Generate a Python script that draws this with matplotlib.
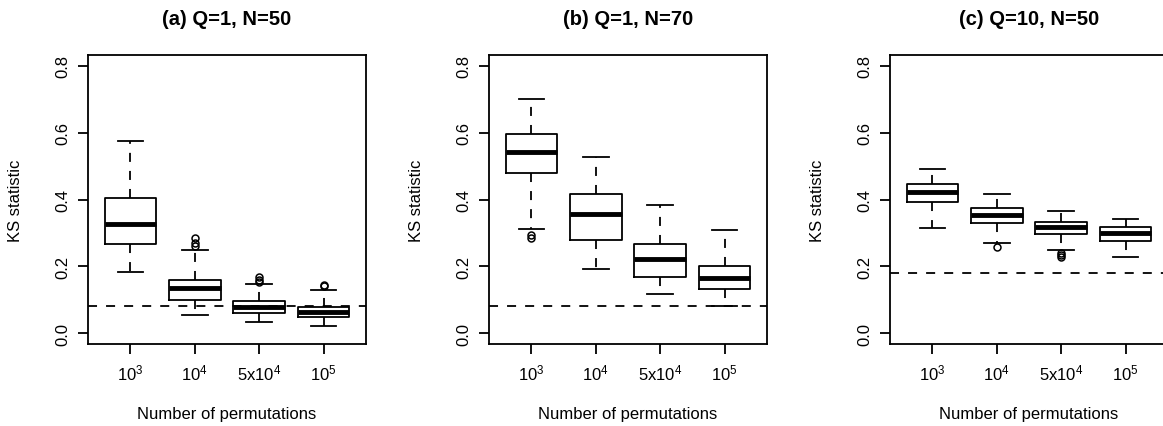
import matplotlib
matplotlib.use("Agg")
import matplotlib.pyplot as plt

plt.rcParams['font.family'] = ['Liberation Sans', 'DejaVu Sans']
plt.rcParams['mathtext.fontset'] = 'custom'
plt.rcParams['mathtext.rm'] = 'Liberation Sans'
plt.rcParams['mathtext.it'] = 'Liberation Sans'

categories = ['$10^3$', '$10^4$', '$5\\mathrm{x}10^4$', '$10^5$']
titles = ['(a) Q=1, N=50', '(b) Q=1, N=70', '(c) Q=10, N=50']

# box statistics, one list per panel
whis_hi = [[0.575, 0.249, 0.148, 0.130],
           [0.699, 0.527, 0.384, 0.309],
           [0.491, 0.415, 0.366, 0.343]]
q3 = [[0.404, 0.160, 0.097, 0.080],
      [0.597, 0.416, 0.266, 0.201],
      [0.447, 0.374, 0.334, 0.319]]
medians = [[0.327, 0.135, 0.078, 0.065],
           [0.543, 0.356, 0.222, 0.165],
           [0.423, 0.354, 0.319, 0.301]]
q1 = [[0.266, 0.099, 0.062, 0.048],
      [0.479, 0.278, 0.169, 0.131],
      [0.392, 0.329, 0.297, 0.277]]
whis_lo = [[0.182, 0.055, 0.033, 0.023],
           [0.311, 0.192, 0.117, 0.083],
           [0.315, 0.270, 0.250, 0.227]]
outliers = [[[], [0.284, 0.269, 0.261], [0.167, 0.158, 0.153], [0.145, 0.140]],
            [[0.294, 0.286], [], [], []],
            [[], [0.257], [0.241, 0.234, 0.228], []]]
ref_lines = [0.083, 0.083, 0.179]

fig = plt.figure(figsize=(11.63, 4.27), dpi=100)
lefts = [88 / 1163, 489 / 1163, 890 / 1163]

for p in range(3):
    ax = fig.add_axes([lefts[p], 82 / 427, 278 / 1163, 289 / 427])
    stats = []
    for i in range(4):
        stats.append({'med': medians[p][i], 'q1': q1[p][i], 'q3': q3[p][i],
                      'whislo': whis_lo[p][i], 'whishi': whis_hi[p][i],
                      'fliers': outliers[p][i]})
    ax.bxp(stats, positions=[1, 2, 3, 4], widths=0.8,
           boxprops=dict(color='black', linewidth=1.3),
           medianprops=dict(color='black', linewidth=3.5, solid_capstyle='butt'),
           whiskerprops=dict(color='black', linewidth=1.3, linestyle=(0, (5, 5))),
           capprops=dict(color='black', linewidth=1.3),
           flierprops=dict(marker='o', markerfacecolor='none', markeredgecolor='black',
                           markersize=5, markeredgewidth=1.1))
    ax.axhline(ref_lines[p], color='black', linewidth=1.3, linestyle=(0, (5, 5)))
    ax.set_xlim(0.34, 4.66)
    ax.set_ylim(-0.032, 0.832)
    ax.set_yticks([0.0, 0.2, 0.4, 0.6, 0.8])
    ax.set_yticklabels(['0.0', '0.2', '0.4', '0.6', '0.8'], rotation=90, va='center')
    ax.set_xticks([1, 2, 3, 4])
    ax.set_xticklabels(categories)
    ax.tick_params(labelsize=12, length=7, width=1.3, direction='out', pad=6)
    for s in ax.spines.values():
        s.set_linewidth(1.3)
    ax.set_ylabel('KS statistic', fontsize=12)
    ax.yaxis.set_label_coords(-0.234, 0.5)
    ax.set_xlabel('Number of permutations', fontsize=12)
    ax.xaxis.set_label_coords(0.5, -0.215)
    ax.text(0.5, 1.128, titles[p], transform=ax.transAxes, ha='center', va='center',
            fontsize=14.5, fontweight='bold')

fig.savefig('out.png', dpi=100)
